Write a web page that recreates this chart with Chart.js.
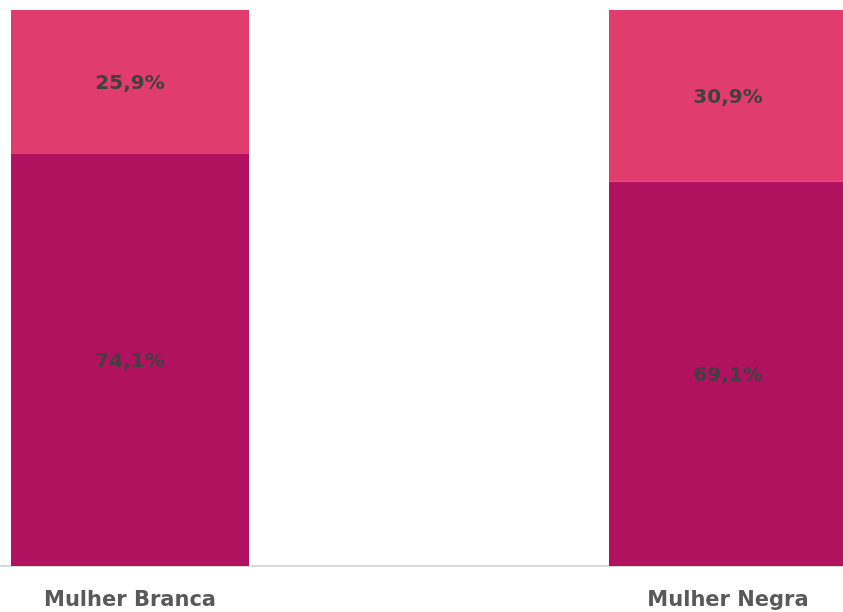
<!DOCTYPE html>
<html>
<head>
<meta charset="utf-8">
<script src="https://cdn.jsdelivr.net/npm/chart.js@4.4.0/dist/chart.umd.min.js"></script>
<style>
    html, body { margin: 0; padding: 0; background: #fff; overflow: hidden; }
    body { width: 843px; height: 612px; position: relative; }
    /* the original chart is cropped on both sides, so the canvas is wider than the page */
    #wrap { position: absolute; left: -169px; top: 0; width: 1196px; height: 612px; }
</style>
</head>
<body>
<div id="wrap"><canvas id="chartCanvas"></canvas></div>
<script>
const categories = ['Mulher Branca', 'Mulher Negra'];
const lowerValues = [74.1, 69.1];
const upperValues = [25.9, 30.9];

// Draw the percentage in the middle of each bar segment
const segmentLabels = {
    id: 'segmentLabels',
    afterDatasetsDraw(chart) {
        const ctx = chart.ctx;
        ctx.save();
        ctx.font = 'bold 20px "DejaVu Sans", sans-serif';
        ctx.fillStyle = '#404040';
        ctx.textAlign = 'center';
        ctx.textBaseline = 'middle';
        chart.data.datasets.forEach((ds, i) => {
            chart.getDatasetMeta(i).data.forEach((bar, j) => {
                const y = (bar.y + bar.base) / 2;
                ctx.fillText(ds.data[j].toFixed(1).replace('.', ',') + '%', bar.x, y + 2);
            });
        });
        ctx.restore();
    }
};

const config = {
    type: 'bar',
    data: {
        labels: categories,
        datasets: [{
            label: 'lower',
            data: lowerValues,
            backgroundColor: '#B0125F',
            barPercentage: 1,
            categoryPercentage: 0.398
        }, {
            label: 'upper',
            data: upperValues,
            backgroundColor: '#E03C6E',
            barPercentage: 1,
            categoryPercentage: 0.398
        }]
    },
    options: {
        responsive: true,
        maintainAspectRatio: false,
        animation: false,
        layout: {
            padding: { top: 10, bottom: 0, left: 0, right: 0 }
        },
        plugins: {
            legend: { display: false },
            tooltip: { enabled: false }
        },
        scales: {
            x: {
                stacked: true,
                grid: { display: false, drawTicks: false },
                border: { display: true, color: '#D9D9D9', width: 2 },
                ticks: {
                    color: '#595959',
                    padding: 22,
                    font: { family: '"DejaVu Sans", sans-serif', size: 21, weight: 'bold' }
                },
                // keep the plot area down to y=566
                afterFit(scale) { scale.height = 46; }
            },
            y: {
                stacked: true,
                display: false,
                min: 0,
                max: 100
            }
        }
    },
    plugins: [segmentLabels]
};

const ctx = document.getElementById('chartCanvas').getContext('2d');
new Chart(ctx, config);
</script>
</body>
</html>
